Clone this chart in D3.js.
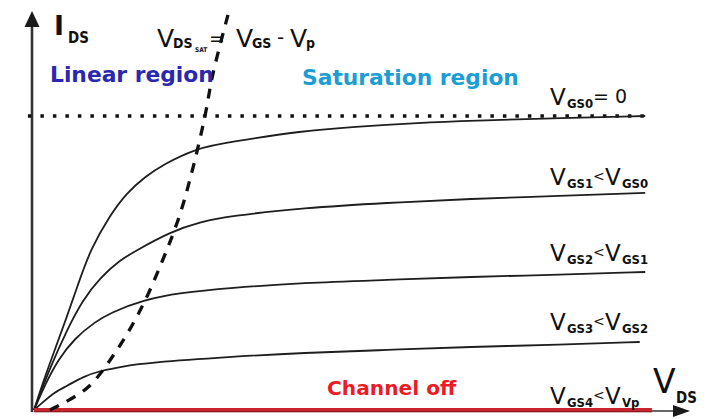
<!DOCTYPE html>
<html>
<head>
<meta charset="utf-8">
<script src="https://cdn.jsdelivr.net/npm/d3@7"></script>
<style>
  html, body { margin: 0; padding: 0; background: #fff; }
  svg { display: block; }
  text { font-family: "DejaVu Sans", sans-serif; }
</style>
</head>
<body>
<svg id="chart" width="709" height="419"></svg>
<script>
// JFET output characteristics: I_DS versus V_DS for decreasing gate voltages.
// Each curve is a list of [V_DS, I_DS] points in arbitrary units.
const curveVGS0 = [[0,0],[0.16,0.75],[0.34,1.5],[0.52,2.25],[0.72,3.13],[0.92,4.0],[1.25,4.88],[1.52,5.43],[1.82,5.83],[2.11,6.13],[2.67,6.55],[3.21,6.7],[4.41,6.98],[5.23,7.08],[6.33,7.18],[7.15,7.23],[8.67,7.3],[10.02,7.35]];
const curveVGS1 = [[0,0],[0.26,1.05],[0.54,2.0],[0.8,2.75],[1.08,3.3],[1.41,3.75],[1.69,4.0],[2.23,4.45],[2.72,4.7],[3.21,4.85],[4.41,5.05],[5.79,5.18],[7.15,5.28],[8.62,5.35],[10.02,5.43]];
const curveVGS2 = [[0,0],[0.18,0.63],[0.39,1.25],[0.67,1.8],[1.0,2.2],[1.25,2.43],[1.79,2.75],[2.39,2.93],[3.21,3.05],[4.41,3.18],[5.79,3.25],[7.15,3.33],[8.62,3.38],[10.02,3.45]];
const curveVGS3 = [[0,0],[0.15,0.2],[0.34,0.45],[0.54,0.6],[0.8,0.83],[1.08,0.98],[1.49,1.1],[1.85,1.18],[3.21,1.33],[4.41,1.43],[5.79,1.5],[7.15,1.58],[8.62,1.63],[9.93,1.7]];
const curveVGS4 = [[0,0],[10.13,0]];              // channel off
const saturationLocus = [[0.26,0],[0.87,0.55],[1.36,1.5],[1.77,2.58],[2.11,3.75],[2.39,4.88],[2.61,6.08],[2.8,7.33],[2.93,8.38],[3.18,9.88]];
const idss = 7.35;                                 // I_DSS level, V_GS = 0
const idssSpan = [-0.1, 10.05];

const svg = d3.select("#chart");
const x = d3.scaleLinear().domain([0, 10]).range([34, 644]);
const y = d3.scaleLinear().domain([0, 10]).range([410, 10]);

const line = d3.line().x(d => x(d[0])).y(d => y(d[1]));
const smooth = d3.line().x(d => x(d[0])).y(d => y(d[1])).curve(d3.curveBasis);
const smoothLocus = d3.line().x(d => x(d[0])).y(d => y(d[1])).curve(d3.curveCatmullRom.alpha(0.5));

svg.append("rect").attr("width", 709).attr("height", 419).attr("fill", "#fff");

// axes with arrowheads
svg.append("line").attr("x1", x(0) - 2).attr("x2", x(0) - 2)
  .attr("y1", y(0) + 2).attr("y2", 24)
  .attr("stroke", "#333").attr("stroke-width", 2.6);
svg.append("path").attr("d", `M${x(0) - 2},11 L${x(0) - 9.5},27 L${x(0) + 5.5},27 Z`).attr("fill", "#1a1a1a");
svg.append("line").attr("x1", x(0)).attr("x2", 676)
  .attr("y1", y(0) + 1).attr("y2", y(0) + 1)
  .attr("stroke", "#333").attr("stroke-width", 1.6);
svg.append("path").attr("d", `M690,${y(0) + 1} L673,${y(0) - 5} L673,${y(0) + 7} Z`).attr("fill", "#1a1a1a");

// I_DSS dotted level
svg.append("line")
  .attr("x1", x(idssSpan[0])).attr("x2", x(idssSpan[1]))
  .attr("y1", y(idss)).attr("y2", y(idss))
  .attr("stroke", "#111").attr("stroke-width", 3.5)
  .attr("stroke-dasharray", "3.5 9");

// gate-voltage curves
[curveVGS0, curveVGS1, curveVGS2, curveVGS3].forEach(c => {
  svg.append("path").attr("d", smooth(c))
    .attr("fill", "none").attr("stroke", "#1e1e1e").attr("stroke-width", 1.8);
});

// channel off (red)
svg.append("path").attr("d", line(curveVGS4))
  .attr("fill", "none").attr("stroke", "#cc2331").attr("stroke-width", 4.2);
svg.append("path").attr("d", line(curveVGS4.map(d => [d[0], d[1] - 0.045])))
  .attr("fill", "none").attr("stroke", "#7a1418").attr("stroke-width", 1);

// saturation locus V_DS,sat = V_GS - V_p
svg.append("path").attr("d", smoothLocus(saturationLocus))
  .attr("fill", "none").attr("stroke", "#111").attr("stroke-width", 3.3)
  .attr("stroke-dasharray", "10 9");

// text helpers
const COND = "'DejaVu Sans Condensed', 'DejaVu Sans', sans-serif";
function label(parts) {
  const t = svg.append("text");
  parts.forEach(p => {
    t.append("tspan")
      .attr("x", p.x).attr("y", p.y)
      .attr("font-size", p.size)
      .attr("font-family", p.cond ? COND : null)
      .attr("font-weight", p.bold ? "bold" : null)
      .attr("fill", p.fill || "#111")
      .text(p.t);
  });
  return t;
}
function ineq(yb, a, b) {
  label([
    {t: "V", x: 550, y: yb, size: 23},
    {t: a, x: 567, y: yb + 3, size: 13, cond: true, bold: true},
    {t: "<", x: 593, y: yb - 4, size: 14},
    {t: "V", x: 605, y: yb, size: 23},
    {t: b, x: 622, y: yb + 3, size: 13, cond: true, bold: true}
  ]);
}

// axis titles
label([
  {t: "I", x: 54, y: 35, size: 27, bold: true},
  {t: "DS", x: 68, y: 43, size: 15, cond: true, bold: true}
]);
label([
  {t: "V", x: 653, y: 393, size: 33},
  {t: "DS", x: 676, y: 403, size: 15, cond: true, bold: true}
]);

// saturation boundary formula
label([
  {t: "V", x: 157, y: 47, size: 25},
  {t: "DS", x: 173, y: 48, size: 14, cond: true, bold: true},
  {t: "SAT", x: 195, y: 52, size: 6.5, cond: true, bold: true},
  {t: "=", x: 209, y: 45, size: 19},
  {t: "V", x: 236, y: 47, size: 25},
  {t: "GS", x: 252, y: 48, size: 14, cond: true, bold: true},
  {t: "-", x: 277, y: 44, size: 20},
  {t: "V", x: 290, y: 47, size: 25},
  {t: "p", x: 306, y: 48, size: 14, cond: true, bold: true}
]);

// region names
svg.append("text").attr("x", 50).attr("y", 82)
  .attr("font-size", 21.8).attr("font-weight", "bold").attr("fill", "#2a27b0")
  .text("Linear region");
svg.append("text").attr("x", 302).attr("y", 85)
  .attr("font-size", 21.8).attr("font-weight", "bold").attr("fill", "#1c9dd3")
  .text("Saturation region");
svg.append("text").attr("x", 327).attr("y", 395)
  .attr("font-size", 20.2).attr("font-weight", "bold").attr("fill", "#ec1c24")
  .text("Channel off");

// curve labels
label([
  {t: "V", x: 550, y: 105, size: 23},
  {t: "GS0", x: 567, y: 108, size: 13, cond: true, bold: true},
  {t: "= 0", x: 593, y: 103, size: 19}
]);
ineq(185, "GS1", "GS0");
ineq(261, "GS2", "GS1");
ineq(330, "GS3", "GS2");
ineq(404, "GS4", "Vp");
</script>
</body>
</html>
